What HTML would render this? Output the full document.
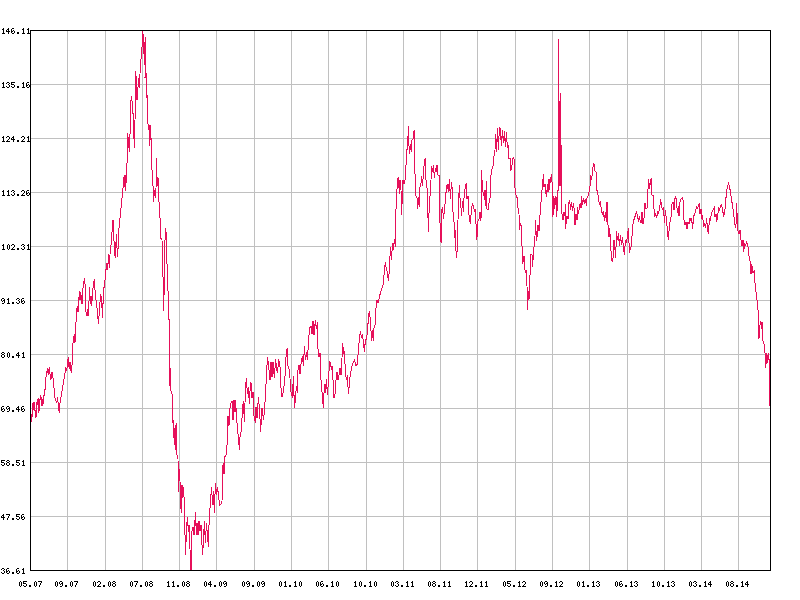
<!DOCTYPE html>
<html><head><meta charset="utf-8"><title>Chart</title>
<style>
html,body{margin:0;padding:0;background:#fff;font-family:"Liberation Sans",sans-serif;}
svg{display:block}
</style></head><body>
<svg width="800" height="600" viewBox="0 0 800 600">
<rect width="800" height="600" fill="#fff"/>
<path d="M67 31h1v539h-1zM105 31h1v539h-1zM142 31h1v539h-1zM179 31h1v539h-1zM216 31h1v539h-1zM254 31h1v539h-1zM291 31h1v539h-1zM328 31h1v539h-1zM366 31h1v539h-1zM403 31h1v539h-1zM440 31h1v539h-1zM477 31h1v539h-1zM515 31h1v539h-1zM552 31h1v539h-1zM589 31h1v539h-1zM627 31h1v539h-1zM664 31h1v539h-1zM701 31h1v539h-1zM738 31h1v539h-1zM31 84h739v1h-739zM31 138h739v1h-739zM31 192h739v1h-739zM31 246h739v1h-739zM31 300h739v1h-739zM31 354h739v1h-739zM31 408h739v1h-739zM31 462h739v1h-739zM31 516h739v1h-739z" fill="#c0c0c0" shape-rendering="crispEdges"/>
<polyline points="31.5,421.5 31.5,415.0 32.5,416.0 32.5,404.0 33.5,403.0 33.5,410.0 34.5,402.0 34.5,410.0 35.5,410.0 35.5,417.0 36.5,416.0 36.5,403.0 37.5,404.0 37.5,400.0 38.5,399.0 38.5,413.0 39.5,409.0 39.5,400.0 40.5,399.0 40.5,395.0 41.5,399.0 41.5,405.0 42.5,405.0 42.5,399.0 43.5,404.0 43.5,395.0 44.5,395.0 44.5,391.0 45.5,388.0 45.8,378.3 47.5,368.3 48.3,375.0 49.2,367.5 50.8,380.0 52.0,371.7 53.3,380.0 55.0,398.3 56.7,403.3 57.5,397.5 59.2,412.5 60.0,403.3 64.2,378.3 65.8,367.5 66.7,370.8 68.3,356.7 69.2,369.2 70.0,361.7 71.3,373.3 72.5,360.0 73.0,343.3 74.2,334.2 75.0,342.5 76.6,310.0 77.6,306.0 78.0,312.0 79.4,291.0 80.0,300.0 80.6,292.0 82.0,304.0 83.0,288.0 84.4,278.4 85.6,290.0 86.0,312.0 87.0,316.0 87.6,309.0 88.4,316.4 89.6,287.0 90.4,304.0 91.0,296.0 91.6,306.0 93.0,288.0 94.4,279.0 95.0,290.0 96.0,300.0 97.0,308.0 98.4,323.6 99.6,308.0 100.6,294.0 101.6,300.0 102.6,318.4 103.4,290.0 104.4,286.0 105.6,274.0 106.6,263.0 107.6,270.0 108.6,254.0 109.4,268.0 110.4,246.0 111.4,244.0 112.4,224.0 113.0,220.0 113.6,232.0 114.4,250.0 115.2,258.0 116.4,234.0 117.4,257.0 118.4,244.0 119.0,228.0 120.6,212.0 122.0,198.0 123.0,188.0 123.6,177.0 124.4,187.0 125.0,175.0 125.6,191.0 126.4,176.0 127.0,163.0 128.0,150.0 127.6,133.0 128.6,144.0 129.4,152.0 130.0,134.0 131.0,130.0 130.5,108.3 131.3,95.8 132.5,105.0 133.3,118.3 134.3,148.0 135.5,100.0 135.8,70.8 137.0,100.0 138.0,86.7 138.7,78.3 139.5,88.3 140.5,60.0 141.7,58.3 142.5,30.8 143.0,40.0 143.7,34.2 144.2,65.0 144.7,45.0 145.5,37.5 145.0,78.3 146.2,73.3 146.7,96.7 147.5,95.8 147.8,120.0 147.6,122.0 149.0,130.0 149.4,146.0 150.0,125.0 151.0,140.0 151.6,138.0 152.0,170.0 152.8,180.0 153.6,202.0 154.4,190.0 155.2,198.0 156.0,188.0 156.6,158.0 157.2,186.0 158.0,177.0 158.6,200.0 159.4,204.0 160.0,218.0 160.6,220.0 160.6,238.0 162.0,240.0 162.4,259.0 163.2,282.0 163.6,311.0 164.0,296.0 164.8,278.0 164.8,244.0 165.6,228.0 166.4,236.0 166.8,263.0 167.6,266.0 168.0,291.0 168.8,294.0 168.8,319.0 169.6,321.0 169.8,340.0 169.6,356.0 169.6,386.0 170.4,368.0 170.6,390.0 172.0,394.0 172.0,423.0 173.2,420.0 174.0,438.0 174.4,428.0 175.2,450.0 175.6,428.0 176.4,423.0 176.8,450.0 177.0,455.0 178.0,459.0 178.4,492.0 179.4,469.0 180.0,481.0 180.6,504.0 181.4,513.0 182.0,485.0 183.0,498.0 183.4,487.0 184.4,503.0 185.0,535.0 185.6,555.0 186.4,531.0 187.4,517.0 188.4,532.0 189.0,525.0 190.0,549.0 190.6,570.0 191.4,570.0 192.0,531.0 193.0,527.0 194.0,535.0 194.6,529.0 195.4,512.0 196.4,535.0 197.0,523.0 198.0,535.0 199.0,521.0 200.0,531.0 201.0,525.0 201.6,535.0 202.4,555.0 203.4,543.0 204.4,521.0 205.4,543.0 206.4,523.0 207.4,535.0 208.4,547.0 209.0,525.0 209.6,515.0 210.4,501.0 211.6,487.0 212.6,505.0 213.4,491.0 214.4,513.0 215.4,483.0 216.6,495.0 217.6,487.0 218.6,497.0 219.6,505.0 221.0,504.0 222.0,501.0 222.6,466.0 223.6,463.0 224.0,474.0 224.8,457.0 226.0,455.0 226.4,450.0 227.4,442.0 228.0,416.0 229.0,426.0 229.6,410.0 231.0,403.0 232.0,401.0 233.0,420.0 234.0,400.0 235.0,412.0 235.6,400.0 236.4,416.0 237.4,428.0 238.4,438.0 239.4,450.0 240.0,437.0 241.0,432.0 242.0,418.0 242.6,407.0 243.4,401.0 244.4,422.0 245.0,403.0 245.6,386.0 246.4,378.0 247.4,394.0 248.4,387.0 249.4,404.0 250.4,383.0 251.4,384.0 252.0,398.0 253.0,392.0 254.0,416.0 255.4,423.0 256.0,407.0 257.0,418.0 258.4,397.0 259.6,410.0 260.6,432.0 262.0,408.0 263.6,420.0 264.4,410.0 265.6,394.0 266.6,370.0 267.6,357.0 268.6,366.0 270.0,380.0 271.0,362.0 272.0,377.0 273.0,362.0 274.4,378.0 275.6,359.0 276.6,370.0 277.6,373.0 278.6,359.0 280.0,367.0 281.0,388.0 282.0,397.0 283.4,392.0 285.0,376.0 286.4,350.0 287.4,349.0 288.0,366.0 289.4,370.0 291.0,392.0 292.4,398.0 293.4,376.0 294.4,407.6 295.4,400.0 296.4,386.0 297.2,393.0 298.0,370.0 299.0,365.0 300.0,374.0 301.0,364.0 302.4,356.0 303.4,366.0 304.4,346.4 305.4,360.0 306.4,352.0 307.4,360.0 308.6,340.0 309.6,328.0 311.0,326.0 312.0,334.0 313.0,321.0 314.0,335.0 315.4,320.0 316.4,329.0 317.4,322.0 318.0,349.0 319.0,357.0 320.0,353.0 321.0,380.0 322.0,392.0 323.4,408.0 324.4,384.0 325.4,393.0 326.4,379.0 327.4,395.0 328.6,380.0 329.4,362.0 330.4,363.0 331.4,370.0 332.0,366.0 333.0,380.0 334.0,398.0 335.0,394.0 336.0,380.0 337.0,372.0 338.0,380.0 339.0,375.0 340.0,368.0 341.0,375.0 342.0,358.0 342.6,343.0 343.6,354.0 344.4,351.0 345.4,372.0 346.4,380.0 347.4,375.0 348.4,394.4 349.4,384.0 350.4,372.0 351.4,370.0 352.4,364.0 353.4,362.0 354.4,360.0 356.0,366.0 357.4,364.0 358.4,350.0 359.4,338.0 360.4,331.0 361.4,338.0 362.4,334.0 363.6,343.0 364.4,352.0 365.4,340.0 366.6,339.0 367.6,330.0 368.6,314.0 369.6,312.0 370.6,323.0 371.6,341.0 372.4,330.0 373.2,341.0 374.0,328.0 375.0,325.0 376.0,308.0 377.0,300.0 378.0,303.0 379.0,299.0 380.6,292.0 382.0,288.0 383.6,283.0 384.4,267.0 385.4,264.0 387.0,271.0 388.4,281.0 389.4,269.0 390.4,247.0 391.4,260.0 392.6,243.0 393.4,250.0 394.4,239.0 395.4,247.0 395.6,216.0 396.6,198.0 397.4,180.0 398.4,177.0 399.4,194.0 400.0,180.0 401.0,190.0 401.6,215.0 402.4,194.0 403.0,180.0 404.0,184.0 405.4,179.0 406.6,152.0 407.6,146.0 408.4,126.0 409.0,146.0 409.6,154.0 410.4,144.0 411.2,152.0 412.0,140.0 413.0,139.0 413.6,132.0 414.4,130.0 414.6,170.0 415.6,179.0 416.0,196.0 417.0,198.0 417.6,209.0 418.4,197.0 419.2,207.0 420.0,187.0 421.0,183.0 421.6,176.0 422.6,186.0 423.4,173.0 424.4,161.0 425.4,158.0 426.0,180.0 427.0,188.0 427.6,203.0 428.4,232.4 429.4,202.0 430.0,196.0 431.0,180.0 431.6,166.0 432.6,172.0 433.4,165.0 434.4,178.0 435.4,168.0 436.4,172.0 437.0,165.0 438.0,175.0 439.0,175.0 439.6,200.0 440.0,223.0 440.6,240.0 441.4,243.0 442.0,209.0 442.6,208.0 443.6,219.0 444.4,210.0 445.4,200.0 446.4,188.0 447.4,184.0 448.4,192.0 449.4,179.0 450.4,199.0 451.4,182.0 452.4,190.0 453.0,212.0 454.0,222.0 454.0,238.0 455.0,230.0 455.6,244.0 456.4,258.4 457.4,248.0 458.0,220.0 458.4,206.0 459.4,185.0 460.0,198.0 461.0,208.0 461.6,216.0 462.4,201.0 463.4,212.0 464.0,198.0 465.4,185.0 466.4,183.0 467.0,199.0 468.0,196.0 468.6,210.0 469.4,219.0 470.4,224.0 471.4,210.0 472.4,204.0 473.4,206.0 474.4,211.0 475.4,210.0 476.0,224.0 476.8,240.0 478.0,221.0 479.0,219.0 480.0,212.0 481.0,221.0 481.4,170.0 482.4,186.0 483.4,196.0 484.4,190.0 485.4,206.0 486.4,181.0 487.0,209.0 488.0,210.0 489.0,203.0 490.0,198.0 490.6,179.0 491.6,170.0 493.0,166.0 494.0,156.0 495.0,150.0 495.6,134.0 496.6,152.0 497.4,128.0 498.4,150.0 499.4,128.0 500.4,129.0 501.4,146.0 502.4,130.0 503.4,143.0 504.4,131.0 505.4,147.0 506.4,132.0 507.4,148.0 508.4,145.0 509.0,159.0 510.0,158.0 510.6,170.0 511.6,169.0 512.6,159.0 513.6,158.0 514.4,160.0 514.6,185.0 515.6,192.0 516.4,197.0 517.4,198.0 518.0,208.0 518.0,209.0 519.0,214.0 519.4,230.0 520.4,224.0 521.4,226.0 522.0,246.0 523.0,254.0 522.6,264.0 524.0,256.0 524.6,269.0 525.6,272.0 526.4,270.0 527.0,286.0 527.6,309.6 528.4,291.0 529.0,300.0 529.6,284.0 530.4,266.0 531.0,254.0 532.0,255.0 532.6,267.0 533.4,254.0 534.0,247.0 535.0,236.0 535.6,220.0 536.4,241.0 537.4,234.0 538.0,225.0 539.0,231.0 539.6,218.0 540.6,210.0 541.4,194.0 542.4,188.0 543.4,174.0 544.0,187.0 545.0,184.0 545.6,192.0 546.6,197.0 547.4,184.0 548.0,192.0 549.0,179.0 549.6,190.0 550.4,177.0 551.0,182.0 551.6,174.0 552.0,182.0 552.5,198.0 552.5,217.0 553.5,213.0 553.5,196.0 554.5,200.0 554.5,209.0 555.5,202.0 555.5,196.0 556.5,199.0 556.5,217.0 557.5,206.0 557.5,193.0 558.5,188.0 558.5,39.0 558.5,150.0 559.5,186.0 559.5,110.0 560.5,93.0 560.5,186.0 561.5,145.0 561.6,190.0 562.0,214.0 563.0,220.0 564.0,212.0 565.0,216.0 565.6,204.0 565.4,229.0 567.0,216.0 568.0,219.0 569.0,202.0 569.6,200.0 570.6,210.0 571.6,202.0 572.6,211.0 573.6,203.0 574.4,212.0 575.0,225.0 576.0,214.0 577.0,220.0 577.6,207.0 578.6,214.0 579.4,206.0 580.4,203.0 581.0,208.0 581.6,196.0 582.6,205.0 583.6,198.0 584.6,204.0 585.6,199.0 586.4,206.0 587.0,198.0 588.0,196.0 589.0,192.0 590.0,186.0 590.6,175.0 591.6,180.0 592.4,172.0 593.4,164.0 594.4,165.0 595.0,171.0 596.0,172.0 596.6,190.0 597.6,191.0 598.4,198.0 599.4,204.0 600.4,202.0 601.4,210.0 602.4,214.0 603.4,211.0 604.4,221.0 605.4,212.0 606.4,222.0 607.0,202.0 608.0,225.0 609.0,237.0 609.6,228.0 610.6,243.0 611.4,258.0 612.4,262.4 613.4,255.0 614.0,240.0 615.0,250.0 615.6,258.0 616.6,231.0 617.4,240.0 618.4,233.0 619.4,246.0 620.4,235.0 621.4,245.0 622.4,237.0 623.4,247.0 624.4,255.0 625.4,240.0 626.4,243.0 627.4,236.0 628.4,228.0 629.4,253.0 630.4,248.0 631.4,246.0 632.4,230.0 633.4,220.0 634.4,219.0 635.4,215.0 636.4,212.0 637.4,215.0 638.4,222.0 639.4,216.0 640.4,222.0 641.0,223.0 642.0,212.0 643.0,224.0 644.0,218.0 645.0,203.0 646.0,209.0 647.0,208.0 647.6,196.0 648.6,179.0 649.6,189.0 650.6,180.0 651.4,178.0 652.0,195.0 653.0,195.0 653.6,204.0 654.6,217.0 655.6,214.0 656.6,218.0 657.6,212.0 658.6,213.0 659.6,209.0 660.6,199.0 661.6,207.0 662.6,209.0 663.6,208.0 664.4,223.0 665.4,210.0 666.4,220.0 667.4,230.0 668.4,240.4 669.4,226.0 670.4,219.0 671.4,215.0 672.0,204.0 673.0,202.0 674.0,210.0 674.6,199.0 675.6,196.0 676.6,202.0 677.4,213.0 678.4,206.0 679.0,216.0 680.0,202.0 681.0,199.0 682.4,197.6 683.4,202.0 684.0,220.0 685.0,225.0 686.0,222.0 687.0,229.0 688.0,222.0 689.0,224.0 690.0,218.0 691.0,221.0 691.6,218.0 692.6,229.0 693.6,216.0 694.6,215.0 695.6,210.0 696.6,207.0 697.6,208.0 698.6,205.0 699.4,204.0 700.0,214.0 701.0,209.0 701.6,219.0 702.6,215.0 703.6,227.0 704.6,224.0 705.6,228.0 706.6,218.0 707.6,230.0 708.4,234.0 709.4,219.0 710.4,220.0 711.4,214.0 712.4,211.0 713.4,209.0 714.4,207.0 715.0,217.0 716.0,214.0 716.6,222.0 717.6,217.0 718.6,208.0 719.6,210.0 720.6,206.0 721.6,205.0 722.6,210.0 723.6,216.0 724.6,214.0 725.6,202.0 726.6,191.0 727.6,186.0 728.6,183.0 729.6,187.0 730.6,193.0 731.6,200.0 732.6,206.0 733.6,214.0 734.6,222.0 735.6,228.0 736.4,220.0 736.6,203.0 737.4,223.0 738.0,231.0 739.0,234.0 740.0,230.0 741.0,240.0 742.0,246.0 743.0,240.0 743.6,252.0 744.6,244.0 745.6,245.0 746.6,242.0 747.6,244.0 748.6,252.0 749.6,261.0 750.4,261.3 751.0,274.1 751.8,264.2 753.0,272.7 754.4,271.2 755.2,286.8 756.7,296.7 758.1,310.9 758.9,339.2 760.1,323.7 760.9,320.8 761.5,329.3 762.0,322.2 762.9,340.7 764.0,343.5 765.2,354.8 765.7,367.6 766.9,353.4 767.7,363.3 768.6,353.4 769.4,363.3 769.7,405.8" fill="none" stroke="#e6105a" stroke-width="1" stroke-linejoin="miter" shape-rendering="crispEdges"/>
<path d="M30 30h741v541h-741zM31 31v539h739v-539z" fill="#000" fill-rule="evenodd" shape-rendering="crispEdges"/>
<path d="M3 28h1v1h-1zM2 29h2v1h-2zM3 30h1v1h-1zM3 31h1v1h-1zM3 32h1v1h-1zM2 33h3v1h-3zM8 28h1v1h-1zM7 29h2v1h-2zM6 30h1v1h-1zM8 30h1v1h-1zM6 31h4v1h-4zM8 32h1v1h-1zM8 33h1v1h-1zM12 28h2v1h-2zM11 29h1v1h-1zM11 30h1v1h-1zM13 30h1v1h-1zM11 31h2v1h-2zM14 31h1v1h-1zM11 32h1v1h-1zM14 32h1v1h-1zM12 33h2v1h-2zM17 32h2v1h-2zM17 33h2v1h-2zM23 28h1v1h-1zM22 29h2v1h-2zM23 30h1v1h-1zM23 31h1v1h-1zM23 32h1v1h-1zM22 33h3v1h-3zM28 28h1v1h-1zM27 29h2v1h-2zM28 30h1v1h-1zM28 31h1v1h-1zM28 32h1v1h-1zM27 33h3v1h-3zM3 82h1v1h-1zM2 83h2v1h-2zM3 84h1v1h-1zM3 85h1v1h-1zM3 86h1v1h-1zM2 87h3v1h-3zM7 82h2v1h-2zM6 83h1v1h-1zM9 83h1v1h-1zM8 84h1v1h-1zM9 85h1v1h-1zM6 86h1v1h-1zM9 86h1v1h-1zM7 87h2v1h-2zM11 82h4v1h-4zM11 83h1v1h-1zM11 84h3v1h-3zM14 85h1v1h-1zM11 86h1v1h-1zM14 86h1v1h-1zM12 87h2v1h-2zM17 86h2v1h-2zM17 87h2v1h-2zM23 82h1v1h-1zM22 83h2v1h-2zM23 84h1v1h-1zM23 85h1v1h-1zM23 86h1v1h-1zM22 87h3v1h-3zM27 82h2v1h-2zM26 83h1v1h-1zM26 84h1v1h-1zM28 84h1v1h-1zM26 85h2v1h-2zM29 85h1v1h-1zM26 86h1v1h-1zM29 86h1v1h-1zM27 87h2v1h-2zM3 136h1v1h-1zM2 137h2v1h-2zM3 138h1v1h-1zM3 139h1v1h-1zM3 140h1v1h-1zM2 141h3v1h-3zM7 136h2v1h-2zM6 137h1v1h-1zM9 137h1v1h-1zM9 138h1v1h-1zM8 139h1v1h-1zM7 140h1v1h-1zM6 141h4v1h-4zM13 136h1v1h-1zM12 137h2v1h-2zM11 138h1v1h-1zM13 138h1v1h-1zM11 139h4v1h-4zM13 140h1v1h-1zM13 141h1v1h-1zM17 140h2v1h-2zM17 141h2v1h-2zM22 136h2v1h-2zM21 137h1v1h-1zM24 137h1v1h-1zM24 138h1v1h-1zM23 139h1v1h-1zM22 140h1v1h-1zM21 141h4v1h-4zM28 136h1v1h-1zM27 137h2v1h-2zM28 138h1v1h-1zM28 139h1v1h-1zM28 140h1v1h-1zM27 141h3v1h-3zM3 190h1v1h-1zM2 191h2v1h-2zM3 192h1v1h-1zM3 193h1v1h-1zM3 194h1v1h-1zM2 195h3v1h-3zM8 190h1v1h-1zM7 191h2v1h-2zM8 192h1v1h-1zM8 193h1v1h-1zM8 194h1v1h-1zM7 195h3v1h-3zM12 190h2v1h-2zM11 191h1v1h-1zM14 191h1v1h-1zM13 192h1v1h-1zM14 193h1v1h-1zM11 194h1v1h-1zM14 194h1v1h-1zM12 195h2v1h-2zM17 194h2v1h-2zM17 195h2v1h-2zM22 190h2v1h-2zM21 191h1v1h-1zM24 191h1v1h-1zM24 192h1v1h-1zM23 193h1v1h-1zM22 194h1v1h-1zM21 195h4v1h-4zM27 190h2v1h-2zM26 191h1v1h-1zM26 192h1v1h-1zM28 192h1v1h-1zM26 193h2v1h-2zM29 193h1v1h-1zM26 194h1v1h-1zM29 194h1v1h-1zM27 195h2v1h-2zM3 244h1v1h-1zM2 245h2v1h-2zM3 246h1v1h-1zM3 247h1v1h-1zM3 248h1v1h-1zM2 249h3v1h-3zM8 244h1v1h-1zM7 245h1v1h-1zM9 245h1v1h-1zM7 246h1v1h-1zM9 246h1v1h-1zM7 247h1v1h-1zM9 247h1v1h-1zM7 248h1v1h-1zM9 248h1v1h-1zM8 249h1v1h-1zM12 244h2v1h-2zM11 245h1v1h-1zM14 245h1v1h-1zM14 246h1v1h-1zM13 247h1v1h-1zM12 248h1v1h-1zM11 249h4v1h-4zM17 248h2v1h-2zM17 249h2v1h-2zM22 244h2v1h-2zM21 245h1v1h-1zM24 245h1v1h-1zM23 246h1v1h-1zM24 247h1v1h-1zM21 248h1v1h-1zM24 248h1v1h-1zM22 249h2v1h-2zM28 244h1v1h-1zM27 245h2v1h-2zM28 246h1v1h-1zM28 247h1v1h-1zM28 248h1v1h-1zM27 249h3v1h-3zM2 298h2v1h-2zM1 299h1v1h-1zM4 299h1v1h-1zM1 300h1v1h-1zM3 300h2v1h-2zM2 301h1v1h-1zM4 301h1v1h-1zM4 302h1v1h-1zM2 303h2v1h-2zM8 298h1v1h-1zM7 299h2v1h-2zM8 300h1v1h-1zM8 301h1v1h-1zM8 302h1v1h-1zM7 303h3v1h-3zM12 302h2v1h-2zM12 303h2v1h-2zM17 298h2v1h-2zM16 299h1v1h-1zM19 299h1v1h-1zM18 300h1v1h-1zM19 301h1v1h-1zM16 302h1v1h-1zM19 302h1v1h-1zM17 303h2v1h-2zM22 298h2v1h-2zM21 299h1v1h-1zM21 300h1v1h-1zM23 300h1v1h-1zM21 301h2v1h-2zM24 301h1v1h-1zM21 302h1v1h-1zM24 302h1v1h-1zM22 303h2v1h-2zM2 352h2v1h-2zM1 353h1v1h-1zM4 353h1v1h-1zM2 354h2v1h-2zM1 355h1v1h-1zM4 355h1v1h-1zM1 356h1v1h-1zM4 356h1v1h-1zM2 357h2v1h-2zM8 352h1v1h-1zM7 353h1v1h-1zM9 353h1v1h-1zM7 354h1v1h-1zM9 354h1v1h-1zM7 355h1v1h-1zM9 355h1v1h-1zM7 356h1v1h-1zM9 356h1v1h-1zM8 357h1v1h-1zM12 356h2v1h-2zM12 357h2v1h-2zM18 352h1v1h-1zM17 353h2v1h-2zM16 354h1v1h-1zM18 354h1v1h-1zM16 355h4v1h-4zM18 356h1v1h-1zM18 357h1v1h-1zM23 352h1v1h-1zM22 353h2v1h-2zM23 354h1v1h-1zM23 355h1v1h-1zM23 356h1v1h-1zM22 357h3v1h-3zM2 406h2v1h-2zM1 407h1v1h-1zM1 408h1v1h-1zM3 408h1v1h-1zM1 409h2v1h-2zM4 409h1v1h-1zM1 410h1v1h-1zM4 410h1v1h-1zM2 411h2v1h-2zM7 406h2v1h-2zM6 407h1v1h-1zM9 407h1v1h-1zM6 408h1v1h-1zM8 408h2v1h-2zM7 409h1v1h-1zM9 409h1v1h-1zM9 410h1v1h-1zM7 411h2v1h-2zM12 410h2v1h-2zM12 411h2v1h-2zM18 406h1v1h-1zM17 407h2v1h-2zM16 408h1v1h-1zM18 408h1v1h-1zM16 409h4v1h-4zM18 410h1v1h-1zM18 411h1v1h-1zM22 406h2v1h-2zM21 407h1v1h-1zM21 408h1v1h-1zM23 408h1v1h-1zM21 409h2v1h-2zM24 409h1v1h-1zM21 410h1v1h-1zM24 410h1v1h-1zM22 411h2v1h-2zM1 460h4v1h-4zM1 461h1v1h-1zM1 462h3v1h-3zM4 463h1v1h-1zM1 464h1v1h-1zM4 464h1v1h-1zM2 465h2v1h-2zM7 460h2v1h-2zM6 461h1v1h-1zM9 461h1v1h-1zM7 462h2v1h-2zM6 463h1v1h-1zM9 463h1v1h-1zM6 464h1v1h-1zM9 464h1v1h-1zM7 465h2v1h-2zM12 464h2v1h-2zM12 465h2v1h-2zM16 460h4v1h-4zM16 461h1v1h-1zM16 462h3v1h-3zM19 463h1v1h-1zM16 464h1v1h-1zM19 464h1v1h-1zM17 465h2v1h-2zM23 460h1v1h-1zM22 461h2v1h-2zM23 462h1v1h-1zM23 463h1v1h-1zM23 464h1v1h-1zM22 465h3v1h-3zM3 514h1v1h-1zM2 515h2v1h-2zM1 516h1v1h-1zM3 516h1v1h-1zM1 517h4v1h-4zM3 518h1v1h-1zM3 519h1v1h-1zM6 514h4v1h-4zM9 515h1v1h-1zM8 516h1v1h-1zM8 517h1v1h-1zM7 518h1v1h-1zM7 519h1v1h-1zM12 518h2v1h-2zM12 519h2v1h-2zM16 514h4v1h-4zM16 515h1v1h-1zM16 516h3v1h-3zM19 517h1v1h-1zM16 518h1v1h-1zM19 518h1v1h-1zM17 519h2v1h-2zM22 514h2v1h-2zM21 515h1v1h-1zM21 516h1v1h-1zM23 516h1v1h-1zM21 517h2v1h-2zM24 517h1v1h-1zM21 518h1v1h-1zM24 518h1v1h-1zM22 519h2v1h-2zM2 568h2v1h-2zM1 569h1v1h-1zM4 569h1v1h-1zM3 570h1v1h-1zM4 571h1v1h-1zM1 572h1v1h-1zM4 572h1v1h-1zM2 573h2v1h-2zM7 568h2v1h-2zM6 569h1v1h-1zM6 570h1v1h-1zM8 570h1v1h-1zM6 571h2v1h-2zM9 571h1v1h-1zM6 572h1v1h-1zM9 572h1v1h-1zM7 573h2v1h-2zM12 572h2v1h-2zM12 573h2v1h-2zM17 568h2v1h-2zM16 569h1v1h-1zM16 570h1v1h-1zM18 570h1v1h-1zM16 571h2v1h-2zM19 571h1v1h-1zM16 572h1v1h-1zM19 572h1v1h-1zM17 573h2v1h-2zM23 568h1v1h-1zM22 569h2v1h-2zM23 570h1v1h-1zM23 571h1v1h-1zM23 572h1v1h-1zM22 573h3v1h-3zM20 581h1v1h-1zM19 582h1v1h-1zM21 582h1v1h-1zM19 583h1v1h-1zM21 583h1v1h-1zM19 584h1v1h-1zM21 584h1v1h-1zM19 585h1v1h-1zM21 585h1v1h-1zM20 586h1v1h-1zM23 581h4v1h-4zM23 582h1v1h-1zM23 583h3v1h-3zM26 584h1v1h-1zM23 585h1v1h-1zM26 585h1v1h-1zM24 586h2v1h-2zM29 585h2v1h-2zM29 586h2v1h-2zM35 581h1v1h-1zM34 582h1v1h-1zM36 582h1v1h-1zM34 583h1v1h-1zM36 583h1v1h-1zM34 584h1v1h-1zM36 584h1v1h-1zM34 585h1v1h-1zM36 585h1v1h-1zM35 586h1v1h-1zM38 581h4v1h-4zM41 582h1v1h-1zM40 583h1v1h-1zM40 584h1v1h-1zM39 585h1v1h-1zM39 586h1v1h-1zM56 581h1v1h-1zM55 582h1v1h-1zM57 582h1v1h-1zM55 583h1v1h-1zM57 583h1v1h-1zM55 584h1v1h-1zM57 584h1v1h-1zM55 585h1v1h-1zM57 585h1v1h-1zM56 586h1v1h-1zM60 581h2v1h-2zM59 582h1v1h-1zM62 582h1v1h-1zM59 583h1v1h-1zM61 583h2v1h-2zM60 584h1v1h-1zM62 584h1v1h-1zM62 585h1v1h-1zM60 586h2v1h-2zM65 585h2v1h-2zM65 586h2v1h-2zM71 581h1v1h-1zM70 582h1v1h-1zM72 582h1v1h-1zM70 583h1v1h-1zM72 583h1v1h-1zM70 584h1v1h-1zM72 584h1v1h-1zM70 585h1v1h-1zM72 585h1v1h-1zM71 586h1v1h-1zM74 581h4v1h-4zM77 582h1v1h-1zM76 583h1v1h-1zM76 584h1v1h-1zM75 585h1v1h-1zM75 586h1v1h-1zM94 581h1v1h-1zM93 582h1v1h-1zM95 582h1v1h-1zM93 583h1v1h-1zM95 583h1v1h-1zM93 584h1v1h-1zM95 584h1v1h-1zM93 585h1v1h-1zM95 585h1v1h-1zM94 586h1v1h-1zM98 581h2v1h-2zM97 582h1v1h-1zM100 582h1v1h-1zM100 583h1v1h-1zM99 584h1v1h-1zM98 585h1v1h-1zM97 586h4v1h-4zM103 585h2v1h-2zM103 586h2v1h-2zM109 581h1v1h-1zM108 582h1v1h-1zM110 582h1v1h-1zM108 583h1v1h-1zM110 583h1v1h-1zM108 584h1v1h-1zM110 584h1v1h-1zM108 585h1v1h-1zM110 585h1v1h-1zM109 586h1v1h-1zM113 581h2v1h-2zM112 582h1v1h-1zM115 582h1v1h-1zM113 583h2v1h-2zM112 584h1v1h-1zM115 584h1v1h-1zM112 585h1v1h-1zM115 585h1v1h-1zM113 586h2v1h-2zM131 581h1v1h-1zM130 582h1v1h-1zM132 582h1v1h-1zM130 583h1v1h-1zM132 583h1v1h-1zM130 584h1v1h-1zM132 584h1v1h-1zM130 585h1v1h-1zM132 585h1v1h-1zM131 586h1v1h-1zM134 581h4v1h-4zM137 582h1v1h-1zM136 583h1v1h-1zM136 584h1v1h-1zM135 585h1v1h-1zM135 586h1v1h-1zM140 585h2v1h-2zM140 586h2v1h-2zM146 581h1v1h-1zM145 582h1v1h-1zM147 582h1v1h-1zM145 583h1v1h-1zM147 583h1v1h-1zM145 584h1v1h-1zM147 584h1v1h-1zM145 585h1v1h-1zM147 585h1v1h-1zM146 586h1v1h-1zM150 581h2v1h-2zM149 582h1v1h-1zM152 582h1v1h-1zM150 583h2v1h-2zM149 584h1v1h-1zM152 584h1v1h-1zM149 585h1v1h-1zM152 585h1v1h-1zM150 586h2v1h-2zM168 581h1v1h-1zM167 582h2v1h-2zM168 583h1v1h-1zM168 584h1v1h-1zM168 585h1v1h-1zM167 586h3v1h-3zM173 581h1v1h-1zM172 582h2v1h-2zM173 583h1v1h-1zM173 584h1v1h-1zM173 585h1v1h-1zM172 586h3v1h-3zM177 585h2v1h-2zM177 586h2v1h-2zM183 581h1v1h-1zM182 582h1v1h-1zM184 582h1v1h-1zM182 583h1v1h-1zM184 583h1v1h-1zM182 584h1v1h-1zM184 584h1v1h-1zM182 585h1v1h-1zM184 585h1v1h-1zM183 586h1v1h-1zM187 581h2v1h-2zM186 582h1v1h-1zM189 582h1v1h-1zM187 583h2v1h-2zM186 584h1v1h-1zM189 584h1v1h-1zM186 585h1v1h-1zM189 585h1v1h-1zM187 586h2v1h-2zM205 581h1v1h-1zM204 582h1v1h-1zM206 582h1v1h-1zM204 583h1v1h-1zM206 583h1v1h-1zM204 584h1v1h-1zM206 584h1v1h-1zM204 585h1v1h-1zM206 585h1v1h-1zM205 586h1v1h-1zM210 581h1v1h-1zM209 582h2v1h-2zM208 583h1v1h-1zM210 583h1v1h-1zM208 584h4v1h-4zM210 585h1v1h-1zM210 586h1v1h-1zM214 585h2v1h-2zM214 586h2v1h-2zM220 581h1v1h-1zM219 582h1v1h-1zM221 582h1v1h-1zM219 583h1v1h-1zM221 583h1v1h-1zM219 584h1v1h-1zM221 584h1v1h-1zM219 585h1v1h-1zM221 585h1v1h-1zM220 586h1v1h-1zM224 581h2v1h-2zM223 582h1v1h-1zM226 582h1v1h-1zM223 583h1v1h-1zM225 583h2v1h-2zM224 584h1v1h-1zM226 584h1v1h-1zM226 585h1v1h-1zM224 586h2v1h-2zM243 581h1v1h-1zM242 582h1v1h-1zM244 582h1v1h-1zM242 583h1v1h-1zM244 583h1v1h-1zM242 584h1v1h-1zM244 584h1v1h-1zM242 585h1v1h-1zM244 585h1v1h-1zM243 586h1v1h-1zM247 581h2v1h-2zM246 582h1v1h-1zM249 582h1v1h-1zM246 583h1v1h-1zM248 583h2v1h-2zM247 584h1v1h-1zM249 584h1v1h-1zM249 585h1v1h-1zM247 586h2v1h-2zM252 585h2v1h-2zM252 586h2v1h-2zM258 581h1v1h-1zM257 582h1v1h-1zM259 582h1v1h-1zM257 583h1v1h-1zM259 583h1v1h-1zM257 584h1v1h-1zM259 584h1v1h-1zM257 585h1v1h-1zM259 585h1v1h-1zM258 586h1v1h-1zM262 581h2v1h-2zM261 582h1v1h-1zM264 582h1v1h-1zM261 583h1v1h-1zM263 583h2v1h-2zM262 584h1v1h-1zM264 584h1v1h-1zM264 585h1v1h-1zM262 586h2v1h-2zM280 581h1v1h-1zM279 582h1v1h-1zM281 582h1v1h-1zM279 583h1v1h-1zM281 583h1v1h-1zM279 584h1v1h-1zM281 584h1v1h-1zM279 585h1v1h-1zM281 585h1v1h-1zM280 586h1v1h-1zM285 581h1v1h-1zM284 582h2v1h-2zM285 583h1v1h-1zM285 584h1v1h-1zM285 585h1v1h-1zM284 586h3v1h-3zM289 585h2v1h-2zM289 586h2v1h-2zM295 581h1v1h-1zM294 582h2v1h-2zM295 583h1v1h-1zM295 584h1v1h-1zM295 585h1v1h-1zM294 586h3v1h-3zM300 581h1v1h-1zM299 582h1v1h-1zM301 582h1v1h-1zM299 583h1v1h-1zM301 583h1v1h-1zM299 584h1v1h-1zM301 584h1v1h-1zM299 585h1v1h-1zM301 585h1v1h-1zM300 586h1v1h-1zM317 581h1v1h-1zM316 582h1v1h-1zM318 582h1v1h-1zM316 583h1v1h-1zM318 583h1v1h-1zM316 584h1v1h-1zM318 584h1v1h-1zM316 585h1v1h-1zM318 585h1v1h-1zM317 586h1v1h-1zM321 581h2v1h-2zM320 582h1v1h-1zM320 583h1v1h-1zM322 583h1v1h-1zM320 584h2v1h-2zM323 584h1v1h-1zM320 585h1v1h-1zM323 585h1v1h-1zM321 586h2v1h-2zM326 585h2v1h-2zM326 586h2v1h-2zM332 581h1v1h-1zM331 582h2v1h-2zM332 583h1v1h-1zM332 584h1v1h-1zM332 585h1v1h-1zM331 586h3v1h-3zM337 581h1v1h-1zM336 582h1v1h-1zM338 582h1v1h-1zM336 583h1v1h-1zM338 583h1v1h-1zM336 584h1v1h-1zM338 584h1v1h-1zM336 585h1v1h-1zM338 585h1v1h-1zM337 586h1v1h-1zM355 581h1v1h-1zM354 582h2v1h-2zM355 583h1v1h-1zM355 584h1v1h-1zM355 585h1v1h-1zM354 586h3v1h-3zM360 581h1v1h-1zM359 582h1v1h-1zM361 582h1v1h-1zM359 583h1v1h-1zM361 583h1v1h-1zM359 584h1v1h-1zM361 584h1v1h-1zM359 585h1v1h-1zM361 585h1v1h-1zM360 586h1v1h-1zM364 585h2v1h-2zM364 586h2v1h-2zM370 581h1v1h-1zM369 582h2v1h-2zM370 583h1v1h-1zM370 584h1v1h-1zM370 585h1v1h-1zM369 586h3v1h-3zM375 581h1v1h-1zM374 582h1v1h-1zM376 582h1v1h-1zM374 583h1v1h-1zM376 583h1v1h-1zM374 584h1v1h-1zM376 584h1v1h-1zM374 585h1v1h-1zM376 585h1v1h-1zM375 586h1v1h-1zM392 581h1v1h-1zM391 582h1v1h-1zM393 582h1v1h-1zM391 583h1v1h-1zM393 583h1v1h-1zM391 584h1v1h-1zM393 584h1v1h-1zM391 585h1v1h-1zM393 585h1v1h-1zM392 586h1v1h-1zM396 581h2v1h-2zM395 582h1v1h-1zM398 582h1v1h-1zM397 583h1v1h-1zM398 584h1v1h-1zM395 585h1v1h-1zM398 585h1v1h-1zM396 586h2v1h-2zM401 585h2v1h-2zM401 586h2v1h-2zM407 581h1v1h-1zM406 582h2v1h-2zM407 583h1v1h-1zM407 584h1v1h-1zM407 585h1v1h-1zM406 586h3v1h-3zM412 581h1v1h-1zM411 582h2v1h-2zM412 583h1v1h-1zM412 584h1v1h-1zM412 585h1v1h-1zM411 586h3v1h-3zM429 581h1v1h-1zM428 582h1v1h-1zM430 582h1v1h-1zM428 583h1v1h-1zM430 583h1v1h-1zM428 584h1v1h-1zM430 584h1v1h-1zM428 585h1v1h-1zM430 585h1v1h-1zM429 586h1v1h-1zM433 581h2v1h-2zM432 582h1v1h-1zM435 582h1v1h-1zM433 583h2v1h-2zM432 584h1v1h-1zM435 584h1v1h-1zM432 585h1v1h-1zM435 585h1v1h-1zM433 586h2v1h-2zM438 585h2v1h-2zM438 586h2v1h-2zM444 581h1v1h-1zM443 582h2v1h-2zM444 583h1v1h-1zM444 584h1v1h-1zM444 585h1v1h-1zM443 586h3v1h-3zM449 581h1v1h-1zM448 582h2v1h-2zM449 583h1v1h-1zM449 584h1v1h-1zM449 585h1v1h-1zM448 586h3v1h-3zM466 581h1v1h-1zM465 582h2v1h-2zM466 583h1v1h-1zM466 584h1v1h-1zM466 585h1v1h-1zM465 586h3v1h-3zM470 581h2v1h-2zM469 582h1v1h-1zM472 582h1v1h-1zM472 583h1v1h-1zM471 584h1v1h-1zM470 585h1v1h-1zM469 586h4v1h-4zM475 585h2v1h-2zM475 586h2v1h-2zM481 581h1v1h-1zM480 582h2v1h-2zM481 583h1v1h-1zM481 584h1v1h-1zM481 585h1v1h-1zM480 586h3v1h-3zM486 581h1v1h-1zM485 582h2v1h-2zM486 583h1v1h-1zM486 584h1v1h-1zM486 585h1v1h-1zM485 586h3v1h-3zM504 581h1v1h-1zM503 582h1v1h-1zM505 582h1v1h-1zM503 583h1v1h-1zM505 583h1v1h-1zM503 584h1v1h-1zM505 584h1v1h-1zM503 585h1v1h-1zM505 585h1v1h-1zM504 586h1v1h-1zM507 581h4v1h-4zM507 582h1v1h-1zM507 583h3v1h-3zM510 584h1v1h-1zM507 585h1v1h-1zM510 585h1v1h-1zM508 586h2v1h-2zM513 585h2v1h-2zM513 586h2v1h-2zM519 581h1v1h-1zM518 582h2v1h-2zM519 583h1v1h-1zM519 584h1v1h-1zM519 585h1v1h-1zM518 586h3v1h-3zM523 581h2v1h-2zM522 582h1v1h-1zM525 582h1v1h-1zM525 583h1v1h-1zM524 584h1v1h-1zM523 585h1v1h-1zM522 586h4v1h-4zM541 581h1v1h-1zM540 582h1v1h-1zM542 582h1v1h-1zM540 583h1v1h-1zM542 583h1v1h-1zM540 584h1v1h-1zM542 584h1v1h-1zM540 585h1v1h-1zM542 585h1v1h-1zM541 586h1v1h-1zM545 581h2v1h-2zM544 582h1v1h-1zM547 582h1v1h-1zM544 583h1v1h-1zM546 583h2v1h-2zM545 584h1v1h-1zM547 584h1v1h-1zM547 585h1v1h-1zM545 586h2v1h-2zM550 585h2v1h-2zM550 586h2v1h-2zM556 581h1v1h-1zM555 582h2v1h-2zM556 583h1v1h-1zM556 584h1v1h-1zM556 585h1v1h-1zM555 586h3v1h-3zM560 581h2v1h-2zM559 582h1v1h-1zM562 582h1v1h-1zM562 583h1v1h-1zM561 584h1v1h-1zM560 585h1v1h-1zM559 586h4v1h-4zM578 581h1v1h-1zM577 582h1v1h-1zM579 582h1v1h-1zM577 583h1v1h-1zM579 583h1v1h-1zM577 584h1v1h-1zM579 584h1v1h-1zM577 585h1v1h-1zM579 585h1v1h-1zM578 586h1v1h-1zM583 581h1v1h-1zM582 582h2v1h-2zM583 583h1v1h-1zM583 584h1v1h-1zM583 585h1v1h-1zM582 586h3v1h-3zM587 585h2v1h-2zM587 586h2v1h-2zM593 581h1v1h-1zM592 582h2v1h-2zM593 583h1v1h-1zM593 584h1v1h-1zM593 585h1v1h-1zM592 586h3v1h-3zM597 581h2v1h-2zM596 582h1v1h-1zM599 582h1v1h-1zM598 583h1v1h-1zM599 584h1v1h-1zM596 585h1v1h-1zM599 585h1v1h-1zM597 586h2v1h-2zM616 581h1v1h-1zM615 582h1v1h-1zM617 582h1v1h-1zM615 583h1v1h-1zM617 583h1v1h-1zM615 584h1v1h-1zM617 584h1v1h-1zM615 585h1v1h-1zM617 585h1v1h-1zM616 586h1v1h-1zM620 581h2v1h-2zM619 582h1v1h-1zM619 583h1v1h-1zM621 583h1v1h-1zM619 584h2v1h-2zM622 584h1v1h-1zM619 585h1v1h-1zM622 585h1v1h-1zM620 586h2v1h-2zM625 585h2v1h-2zM625 586h2v1h-2zM631 581h1v1h-1zM630 582h2v1h-2zM631 583h1v1h-1zM631 584h1v1h-1zM631 585h1v1h-1zM630 586h3v1h-3zM635 581h2v1h-2zM634 582h1v1h-1zM637 582h1v1h-1zM636 583h1v1h-1zM637 584h1v1h-1zM634 585h1v1h-1zM637 585h1v1h-1zM635 586h2v1h-2zM653 581h1v1h-1zM652 582h2v1h-2zM653 583h1v1h-1zM653 584h1v1h-1zM653 585h1v1h-1zM652 586h3v1h-3zM658 581h1v1h-1zM657 582h1v1h-1zM659 582h1v1h-1zM657 583h1v1h-1zM659 583h1v1h-1zM657 584h1v1h-1zM659 584h1v1h-1zM657 585h1v1h-1zM659 585h1v1h-1zM658 586h1v1h-1zM662 585h2v1h-2zM662 586h2v1h-2zM668 581h1v1h-1zM667 582h2v1h-2zM668 583h1v1h-1zM668 584h1v1h-1zM668 585h1v1h-1zM667 586h3v1h-3zM672 581h2v1h-2zM671 582h1v1h-1zM674 582h1v1h-1zM673 583h1v1h-1zM674 584h1v1h-1zM671 585h1v1h-1zM674 585h1v1h-1zM672 586h2v1h-2zM690 581h1v1h-1zM689 582h1v1h-1zM691 582h1v1h-1zM689 583h1v1h-1zM691 583h1v1h-1zM689 584h1v1h-1zM691 584h1v1h-1zM689 585h1v1h-1zM691 585h1v1h-1zM690 586h1v1h-1zM694 581h2v1h-2zM693 582h1v1h-1zM696 582h1v1h-1zM695 583h1v1h-1zM696 584h1v1h-1zM693 585h1v1h-1zM696 585h1v1h-1zM694 586h2v1h-2zM699 585h2v1h-2zM699 586h2v1h-2zM705 581h1v1h-1zM704 582h2v1h-2zM705 583h1v1h-1zM705 584h1v1h-1zM705 585h1v1h-1zM704 586h3v1h-3zM710 581h1v1h-1zM709 582h2v1h-2zM708 583h1v1h-1zM710 583h1v1h-1zM708 584h4v1h-4zM710 585h1v1h-1zM710 586h1v1h-1zM727 581h1v1h-1zM726 582h1v1h-1zM728 582h1v1h-1zM726 583h1v1h-1zM728 583h1v1h-1zM726 584h1v1h-1zM728 584h1v1h-1zM726 585h1v1h-1zM728 585h1v1h-1zM727 586h1v1h-1zM731 581h2v1h-2zM730 582h1v1h-1zM733 582h1v1h-1zM731 583h2v1h-2zM730 584h1v1h-1zM733 584h1v1h-1zM730 585h1v1h-1zM733 585h1v1h-1zM731 586h2v1h-2zM736 585h2v1h-2zM736 586h2v1h-2zM742 581h1v1h-1zM741 582h2v1h-2zM742 583h1v1h-1zM742 584h1v1h-1zM742 585h1v1h-1zM741 586h3v1h-3zM747 581h1v1h-1zM746 582h2v1h-2zM745 583h1v1h-1zM747 583h1v1h-1zM745 584h4v1h-4zM747 585h1v1h-1zM747 586h1v1h-1z" fill="#000" shape-rendering="crispEdges"/>
</svg>
</body></html>
